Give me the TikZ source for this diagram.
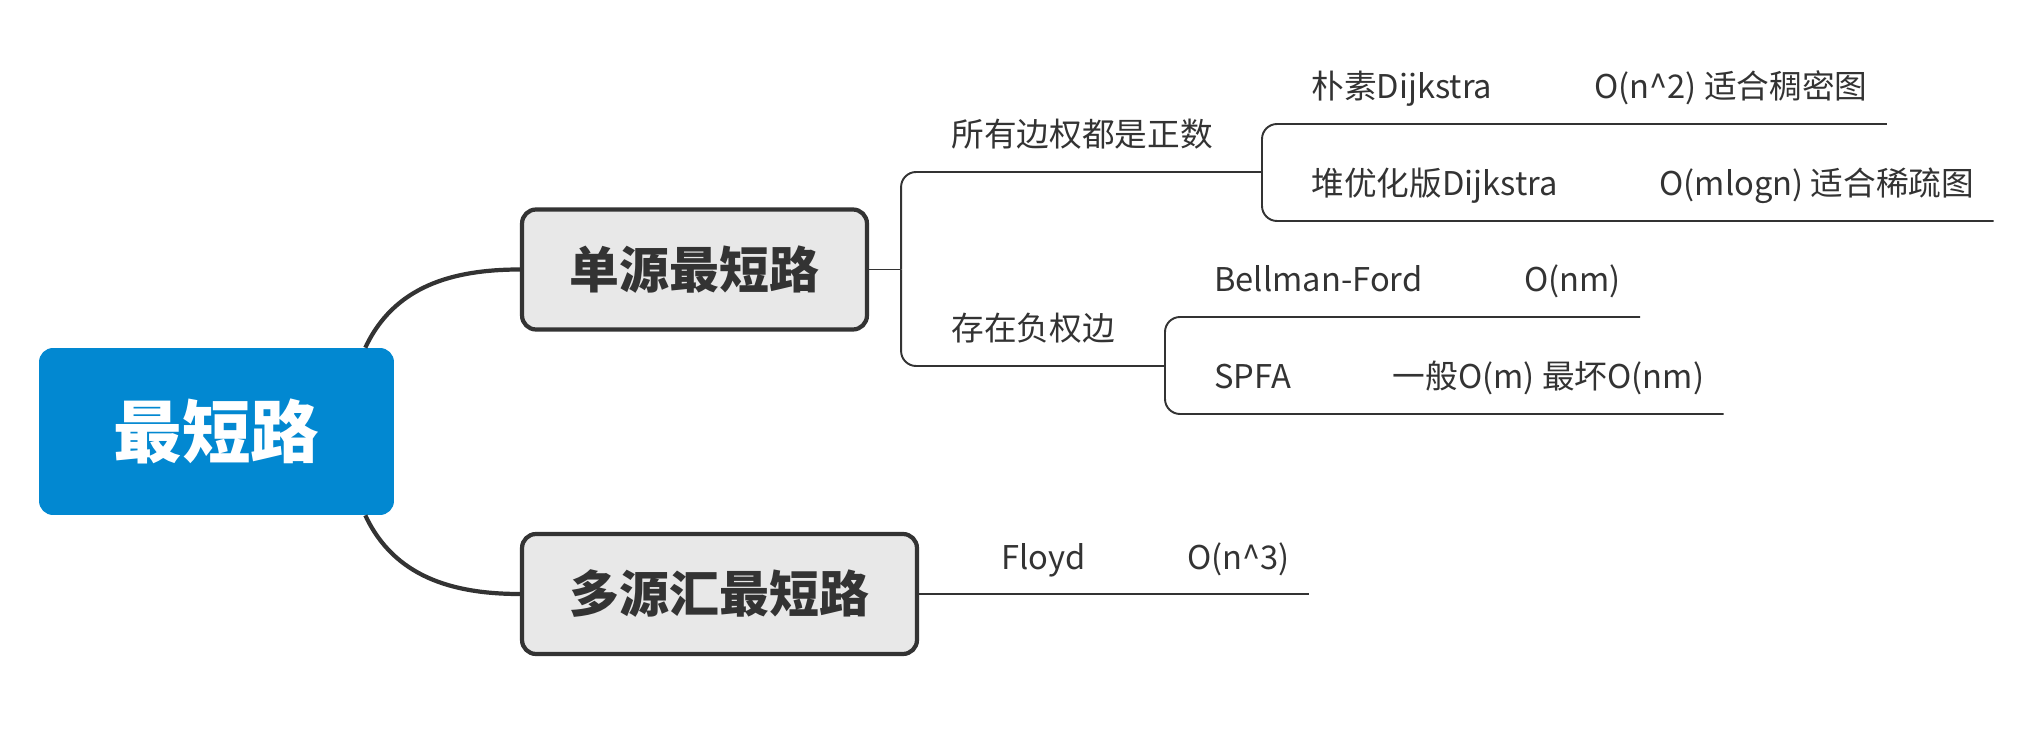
\documentclass[tikz,border=0pt]{standalone}
\usepackage{fontspec}
\setmainfont{Noto Sans CJK SC}
\usetikzlibrary{positioning}
\definecolor{rootblue}{HTML}{0288D1}
\definecolor{boxgray}{HTML}{E8E8E8}
\definecolor{inkdark}{HTML}{333333}
\newcommand{\gap}{\hspace{58pt}}

\begin{document}
\begin{tikzpicture}[x=0.02cm, y=-0.02cm, font=\fontsize{18.6}{22}\selectfont, text=inkdark,
  rootnode/.style={fill=rootblue, rounded corners=0.28cm, minimum width=7.1cm, minimum height=3.34cm, text=white, font=\fontsize{39}{44}\selectfont\bfseries},
  mainnode/.style={draw=inkdark, line width=2.4pt, fill=boxgray, rounded corners=0.28cm, minimum height=2.4cm, font=\fontsize{28.4}{32}\selectfont\bfseries},
  topic/.style={anchor=west, inner sep=0pt, text height=0.9em, text depth=0.15em},
  branch/.style={draw=inkdark, line width=1.1pt, rounded corners=0.3cm},
  stem/.style={draw=inkdark, line width=2.4pt}]
\useasboundingbox (0,0) rectangle (2030,749);
\node[rootnode] (root) at (216.5,431.5) {最短路};
\node[mainnode, minimum width=6.9cm] (single) at (694.5,269.5) {单源最短路};
\node[mainnode, minimum width=7.9cm] (multi) at (719.5,594) {多源汇最短路};
\draw[stem] ([xshift=-0.58cm]root.north east) to[out=65, in=180] (single.west);
\draw[stem] ([xshift=-0.58cm]root.south east) to[out=-65, in=180] (multi.west);

\node[topic] (pos) at (951,140) {所有边权都是正数};
\node[topic] (neg) at (951,334) {存在负权边};
\draw[branch] (single.east) -- ++(32,0) coordinate (j1);
\coordinate (j2) at (1262,172);
\coordinate (j3) at (1165,366);
\draw[branch] (j1) |- (j2);
\draw[branch] (j1) |- (j3);

\foreach \name/\x/\y/\txt in {dij/1311/92/{朴素Dijkstra\gap O(n\textasciicircum 2) 适合稠密图},
    heap/1311/189/{堆优化版Dijkstra\gap O(mlogn) 适合稀疏图},
    bf/1214/285/{Bellman-Ford\gap O(nm)},
    spfa/1214/382/{SPFA\gap 一般O(m) 最坏O(nm)},
    floyd/1001/563/{Floyd\gap O(n\textasciicircum 3)}}
  {\node[topic] (\name) at (\x,\y) {\txt};}
\foreach \j/\name in {j2/dij, j2/heap, j3/bf, j3/spfa}
  {\draw[branch] (\j) |- ([shift={(19,32)}]\name.east);}
\draw[branch] (multi.east) -- ([xshift=0.38cm]multi.east -| floyd.east);
\end{tikzpicture}
\end{document}
